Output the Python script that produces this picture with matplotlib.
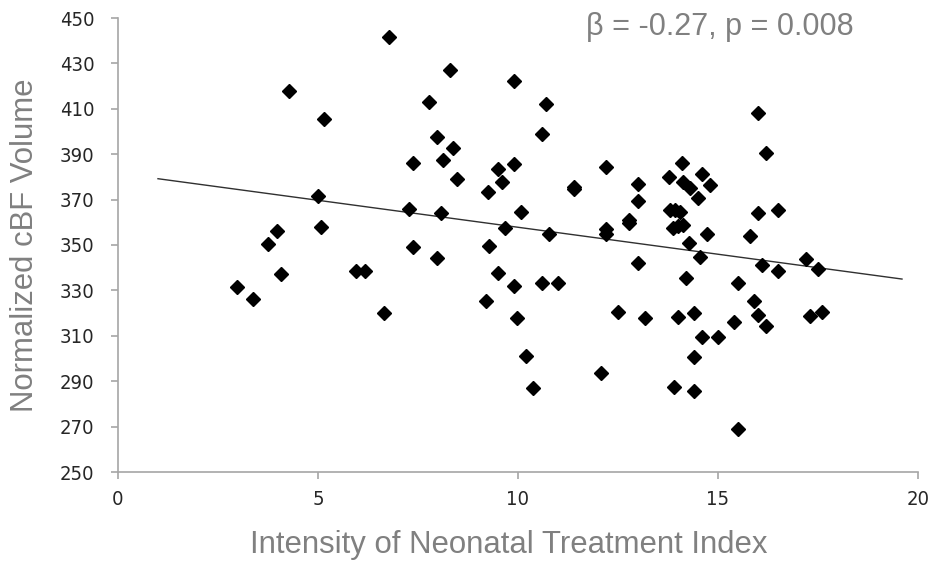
import matplotlib
matplotlib.use("Agg")
import matplotlib.pyplot as plt

treatment_index = [
    2.98, 3.38, 3.75, 3.98, 4.08, 4.28, 5.00, 5.08, 5.15, 5.95,
    6.18, 6.65, 6.78, 7.28, 7.38, 7.38, 7.78, 7.98, 7.98, 8.08,
    8.13, 8.30, 8.38, 8.48, 9.20, 9.25, 9.28, 9.50, 9.50, 9.60,
    9.68, 9.90, 9.90, 9.90, 9.98, 10.08, 10.20, 10.38, 10.60, 10.60,
    10.70, 10.78, 11.00, 11.40, 11.40, 12.08, 12.20, 12.20, 12.20, 12.50,
    12.78, 12.78, 13.00, 13.00, 13.00, 13.18, 13.78, 13.80, 13.93, 14.05,
    13.88, 14.00, 14.13, 13.90, 14.00, 14.10, 14.13, 14.20, 14.28, 14.30,
    14.40, 14.40, 14.40, 14.50, 14.55, 14.60, 14.60, 14.73, 14.80, 15.00,
    15.40, 15.50, 15.50, 15.80, 15.90, 16.00, 16.00, 16.00, 16.10, 16.20,
    16.20, 16.50, 16.50, 17.20, 17.30, 17.50, 17.60,
]
cbf_volume = [
    331.5, 326.2, 350.4, 356.2, 337.2, 417.8, 371.6, 358.0, 405.5, 338.5,
    338.5, 320.0, 441.6, 365.9, 386.1, 349.1, 413.0, 397.6, 344.3, 364.1,
    387.4, 427.1, 392.7, 379.1, 325.3, 373.3, 349.6, 337.7, 383.5, 377.8,
    357.5, 332.0, 385.7, 422.2, 317.8, 364.5, 301.1, 287.0, 333.3, 398.9,
    412.1, 354.8, 333.3, 375.6, 374.5, 293.6, 384.4, 357.0, 355.0, 320.5,
    361.0, 359.5, 376.9, 369.4, 342.1, 317.8, 380.0, 365.4, 365.4, 364.5,
    357.5, 358.4, 358.8, 287.4, 318.3, 386.1, 377.8, 335.5, 350.9, 375.1,
    320.0, 300.7, 285.7, 370.7, 344.7, 381.3, 309.5, 354.8, 376.4, 309.5,
    316.0, 333.3, 269.0, 354.0, 325.3, 408.1, 364.1, 319.2, 341.2, 390.5,
    314.3, 365.4, 338.5, 343.8, 318.7, 339.4, 320.5,
]
trend_x = [1.0, 19.6]
trend_y = [379.2, 335.0]

x_ticks = [0, 5, 10, 15, 20]
y_ticks = [250, 270, 290, 310, 330, 350, 370, 390, 410, 430, 450]
x_label = "Intensity of Neonatal Treatment Index"
y_label = "Normalized cBF Volume"
annotation = "β = -0.27, p = 0.008"

label_font = ["Liberation Sans", "DejaVu Sans"]

fig = plt.figure(figsize=(9.37, 5.63), dpi=100)
ax = fig.add_axes([118 / 937, 1 - 472 / 563, 800 / 937, 454 / 563])

ax.plot(trend_x, trend_y, color="#303030", linewidth=1.0, zorder=2)
ax.plot(treatment_index, cbf_volume, linestyle="none", marker="D",
        markersize=7.6, color="black", zorder=3)

ax.set_xlim(0, 20)
ax.set_ylim(250, 450)
ax.set_xticks(x_ticks)
ax.set_yticks(y_ticks)

for side in ("top", "right"):
    ax.spines[side].set_visible(False)
for side in ("left", "bottom"):
    ax.spines[side].set_color("#A6A6A6")
    ax.spines[side].set_linewidth(1.2)
ax.tick_params(axis="both", direction="out", length=5, width=1.2,
               color="#A6A6A6", labelcolor="#262626", labelsize=14.5)
ax.tick_params(axis="x", pad=8)
ax.tick_params(axis="y", pad=12)
for lbl in ax.get_xticklabels() + ax.get_yticklabels():
    lbl.set_fontfamily("DejaVu Sans")
    lbl.set_fontstretch("condensed")

ax.set_xlabel(x_label, fontsize=22.4, color="#808080", family=label_font)
ax.xaxis.set_label_coords(0.489, -0.128)
ax.set_ylabel(y_label, fontsize=22.4, color="#808080", family=label_font, labelpad=14)

fig.text(720 / 937, 1 - 27 / 563, annotation, fontsize=22, color="#808080",
         family=label_font, ha="center", va="center")

fig.savefig("out.png", dpi=100)
